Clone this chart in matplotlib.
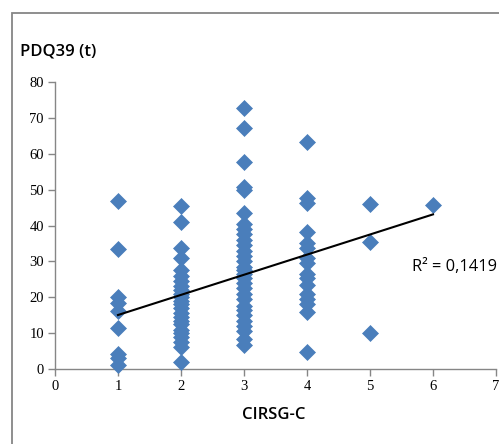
import matplotlib
matplotlib.use("Agg")
import matplotlib.pyplot as plt
from matplotlib.patches import Rectangle

# ---- data ----
x_c1 = [1] * 9
y_c1 = [46.9, 33.4, 20.0, 18.5, 16.2, 11.5, 4.2, 3.0, 1.2]
x_c2 = [2] * 24
y_c2 = [45.5, 41.0, 33.6, 30.9, 27.5, 26.0, 24.5, 23.0, 22.0, 21.0, 20.0, 19.0,
        18.0, 17.0, 15.5, 14.5, 13.5, 12.5, 11.0, 10.0, 9.0, 7.5, 6.2, 2.0]
x_c3 = [3] * 30
y_c3 = [72.8, 67.3, 57.8, 50.6, 49.8, 43.5, 40.5, 39.0, 37.5, 36.0, 34.5, 33.0,
        31.5, 30.0, 28.5, 27.5, 26.5, 25.5, 24.0, 22.5, 21.0, 19.5, 17.5, 16.5,
        15.0, 13.5, 12.0, 10.5, 8.5, 6.8]
x_c4 = [4] * 16
y_c4 = [63.4, 47.6, 46.3, 38.2, 35.1, 33.7, 31.0, 29.5, 26.5, 25.5, 23.5, 21.0,
        19.5, 18.0, 16.0, 4.6]
x_c5 = [5, 5, 5]
y_c5 = [46.0, 35.4, 10.1]
x_c6 = [6]
y_c6 = [45.6]

x_vals = x_c1 + x_c2 + x_c3 + x_c4 + x_c5 + x_c6
y_vals = y_c1 + y_c2 + y_c3 + y_c4 + y_c5 + y_c6

trend_slope = 5.61
trend_intercept = 9.44
r2_label = "R² = 0,1419"
x_ticks = [0, 1, 2, 3, 4, 5, 6, 7]
y_ticks = [0, 10, 20, 30, 40, 50, 60, 70, 80]
y_title = "PDQ39 (t)"
x_title = "CIRSG-C"

# ---- figure ----
W, H = 499, 444
fig = plt.figure(figsize=(W / 100, H / 100), dpi=100)
fig.patch.set_facecolor("white")

# outer chart-area frame (extends beyond the visible crop on right/bottom)
fig.patches.append(Rectangle((12 / W, -0.2), 1.2, 0.2 + 1 - 13 / H,
                             transform=fig.transFigure, fill=False,
                             edgecolor="#868686", linewidth=1.3))

ax = fig.add_axes([55 / W, 1 - 369 / H, 441 / W, 287 / H])
ax.set_xlim(0, 7)
ax.set_ylim(0, 80)
ax.set_facecolor("none")

gray = "#868686"
for s in ["top", "right"]:
    ax.spines[s].set_visible(False)
for s in ["left", "bottom"]:
    ax.spines[s].set_color(gray)
    ax.spines[s].set_linewidth(1.0)

ax.set_xticks(x_ticks)
ax.set_yticks(y_ticks)
ax.tick_params(axis="both", direction="out", length=5, width=1, color=gray,
               labelsize=10.5, pad=3)
for lab in ax.get_xticklabels() + ax.get_yticklabels():
    lab.set_fontfamily("Liberation Serif")

ax.scatter(x_vals, y_vals, marker="D", s=66, color="#4A7EBB",
           edgecolors="#4A7EBB", linewidths=0.5, zorder=3, clip_on=False)

tx = [min(x_vals), max(x_vals)]
ty = [trend_slope * v + trend_intercept for v in tx]
ax.plot(tx, ty, color="black", linewidth=1.5, zorder=4)

ax.text(5.66, 28.5, r2_label, fontsize=11.8, family="Open Sans",
        fontweight="medium", ha="left", va="center", zorder=5, clip_on=False)

fig.text(20 / W, 1 - 52 / H, y_title, fontsize=12, family="Open Sans",
         fontweight="semibold", ha="left", va="center")
fig.text(274 / W, 1 - 415 / H, x_title, fontsize=12, family="Open Sans",
         fontweight="semibold", ha="center", va="center")

fig.savefig("out.png", dpi=100)
